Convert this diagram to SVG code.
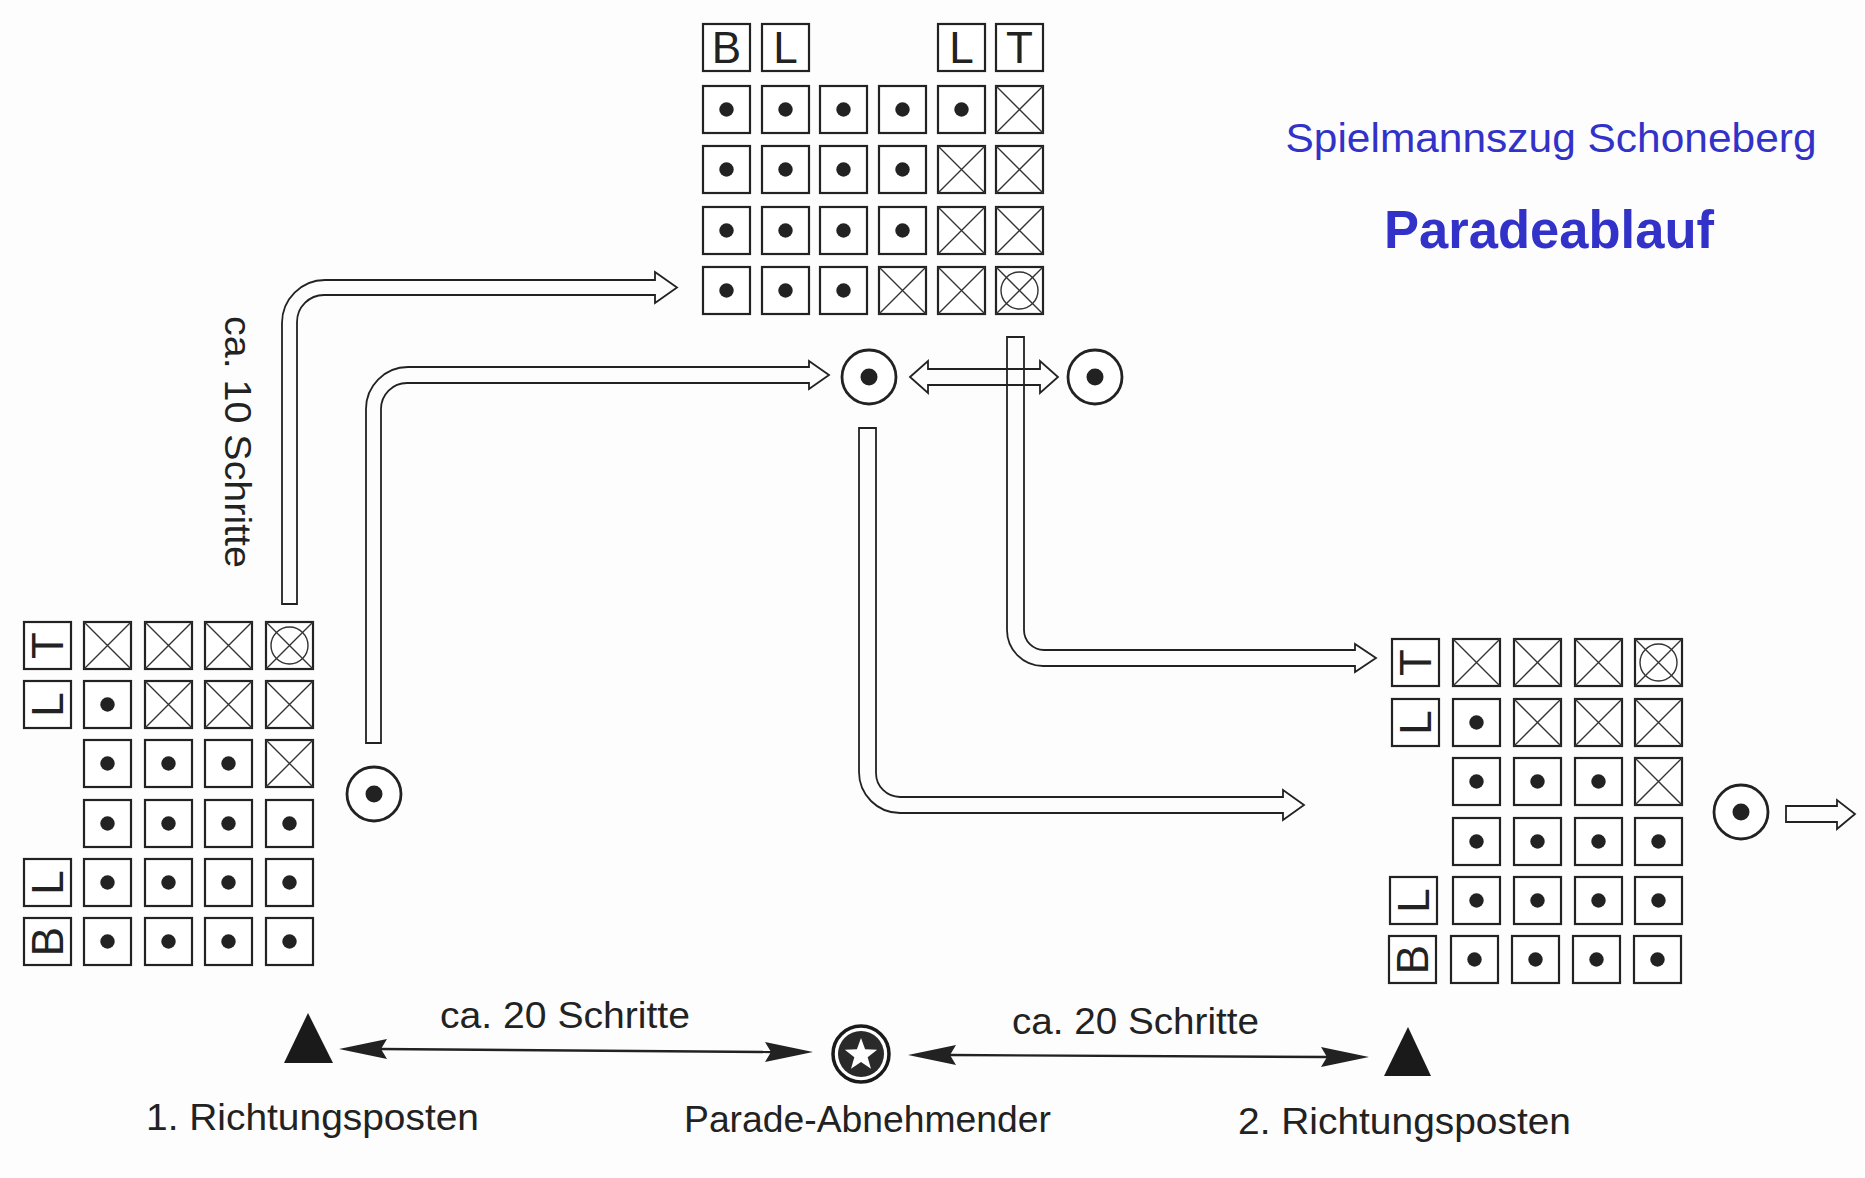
<svg xmlns="http://www.w3.org/2000/svg" xmlns:xlink="http://www.w3.org/1999/xlink" width="1865" height="1178" viewBox="0 0 1865 1178">
<style>
.bx{fill:#fff;stroke:#222;stroke-width:2.2}
.xl{stroke:#333;stroke-width:1.4;fill:none}
.dt{fill:#222}
.lb{font-family:"Liberation Sans",Arial,sans-serif;font-size:44px;fill:#222;text-anchor:middle}
.pipe{fill:none;stroke:#222;stroke-width:1.8;stroke-linejoin:miter}
.mk{fill:#fff;stroke:#222;stroke-width:2.8}
.txt{font-family:"Liberation Sans",Arial,sans-serif;font-size:37px;fill:#222}
.ttl{font-family:"Liberation Sans",Arial,sans-serif;fill:#3232c8;text-anchor:middle}
</style>
<defs>
<g id="cD"><rect class="bx" x="0" y="0" width="47" height="47"/><circle class="dt" cx="23.5" cy="23.5" r="7.2"/></g>
<g id="cX"><rect class="bx" x="0" y="0" width="47" height="47"/><path class="xl" d="M0 0L47 47M47 0L0 47"/></g>
<g id="cO"><rect class="bx" x="0" y="0" width="47" height="47"/><path class="xl" d="M0 0L47 47M47 0L0 47"/><circle class="xl" cx="23.5" cy="23.5" r="18.5"/></g>
<g id="marker"><circle class="mk" cx="0" cy="0" r="27"/><circle class="dt" cx="0" cy="0" r="8.5"/></g>
</defs>
<rect x="0" y="0" width="1865" height="1178" fill="#fdfdfd"/>

<g id="title">
<text class="ttl" x="1551" y="152" font-size="41" textLength="531" lengthAdjust="spacingAndGlyphs">Spielmannszug Schoneberg</text>
<text class="ttl" x="1549" y="248" font-size="54" font-weight="bold" textLength="330" lengthAdjust="spacingAndGlyphs">Paradeablauf</text>
</g>

<g id="connectors">
<path id="pipe-a" class="pipe" d="M282 604 L282 323 A43 43 0 0 1 325 280 L655 280 L655 272 L677 287.5 L655 303 L655 295 L324 295 A27 27 0 0 0 297 322 L297 604 Z"/>
<path id="pipe-b" class="pipe" d="M366 743 L366 409 A42 42 0 0 1 408 367 L809 367 L809 361 L829 375 L809 389 L809 383 L407 383 A26 26 0 0 0 381 409 L381 743 Z"/>
<path id="pipe-c" class="pipe" d="M859 428 L859 772 A41 41 0 0 0 900 813 L1283 813 L1283 820 L1304 805 L1283 790 L1283 797 L900 797 A24 24 0 0 1 876 773 L876 428 Z"/>
<path id="pipe-d" class="pipe" d="M1007 337 L1007 630 A36 36 0 0 0 1043 666 L1355 666 L1355 672 L1376 658 L1355 644 L1355 650 L1044 650 A20 20 0 0 1 1024 630 L1024 337 Z"/>
<path id="swap" class="pipe" d="M910 377 L928 361 L928 369 L1040 369 L1040 361 L1058 377 L1040 393 L1040 385 L928 385 L928 393 Z"/>
<path id="exit" class="pipe" d="M1786 806 L1837 806 L1837 800 L1855 814 L1837 829 L1837 822 L1786 822 Z"/>
<g id="dist-left">
<line x1="380" y1="1049" x2="772" y2="1052" stroke="#222" stroke-width="2.4"/>
<polygon points="339,1049 387,1039 381,1049 387,1059" fill="#222"/>
<polygon points="813,1052 765,1042 771,1052 765,1062" fill="#222"/>
</g>
<g id="dist-right">
<line x1="950" y1="1055" x2="1327" y2="1057" stroke="#222" stroke-width="2.4"/>
<polygon points="908,1055 956,1045 950,1055 956,1065" fill="#222"/>
<polygon points="1369,1057 1321,1047 1327,1057 1321,1067" fill="#222"/>
</g>
</g>

<g id="formation-top">
<g><rect class="bx" x="703" y="24" width="47" height="47"/><text class="lb" x="726.5" y="63">B</text></g>
<g><rect class="bx" x="762" y="24" width="47" height="47"/><text class="lb" x="785.5" y="63">L</text></g>
<g><rect class="bx" x="938" y="24" width="47" height="47"/><text class="lb" x="961.5" y="63">L</text></g>
<g><rect class="bx" x="996" y="24" width="47" height="47"/><text class="lb" x="1019.5" y="63">T</text></g>
<use xlink:href="#cD" x="703" y="86"/><use xlink:href="#cD" x="762" y="86"/><use xlink:href="#cD" x="820" y="86"/><use xlink:href="#cD" x="879" y="86"/><use xlink:href="#cD" x="938" y="86"/><use xlink:href="#cX" x="996" y="86"/>
<use xlink:href="#cD" x="703" y="146"/><use xlink:href="#cD" x="762" y="146"/><use xlink:href="#cD" x="820" y="146"/><use xlink:href="#cD" x="879" y="146"/><use xlink:href="#cX" x="938" y="146"/><use xlink:href="#cX" x="996" y="146"/>
<use xlink:href="#cD" x="703" y="207"/><use xlink:href="#cD" x="762" y="207"/><use xlink:href="#cD" x="820" y="207"/><use xlink:href="#cD" x="879" y="207"/><use xlink:href="#cX" x="938" y="207"/><use xlink:href="#cX" x="996" y="207"/>
<use xlink:href="#cD" x="703" y="267"/><use xlink:href="#cD" x="762" y="267"/><use xlink:href="#cD" x="820" y="267"/><use xlink:href="#cX" x="879" y="267"/><use xlink:href="#cX" x="938" y="267"/><use xlink:href="#cO" x="996" y="267"/>
</g>

<g id="formation-left">
<g><rect class="bx" x="24" y="622" width="47" height="47"/><text class="lb" x="47.5" y="661" transform="rotate(-90 47.5 645.5)">T</text></g>
<use xlink:href="#cX" x="84" y="622"/><use xlink:href="#cX" x="145" y="622"/><use xlink:href="#cX" x="205" y="622"/><use xlink:href="#cO" x="266" y="622"/>
<g><rect class="bx" x="24" y="681" width="47" height="47"/><text class="lb" x="47.5" y="720" transform="rotate(-90 47.5 704.5)">L</text></g>
<use xlink:href="#cD" x="84" y="681"/><use xlink:href="#cX" x="145" y="681"/><use xlink:href="#cX" x="205" y="681"/><use xlink:href="#cX" x="266" y="681"/>
<use xlink:href="#cD" x="84" y="740"/><use xlink:href="#cD" x="145" y="740"/><use xlink:href="#cD" x="205" y="740"/><use xlink:href="#cX" x="266" y="740"/>
<use xlink:href="#cD" x="84" y="800"/><use xlink:href="#cD" x="145" y="800"/><use xlink:href="#cD" x="205" y="800"/><use xlink:href="#cD" x="266" y="800"/>
<g><rect class="bx" x="24" y="859" width="47" height="47"/><text class="lb" x="47.5" y="898" transform="rotate(-90 47.5 882.5)">L</text></g>
<use xlink:href="#cD" x="84" y="859"/><use xlink:href="#cD" x="145" y="859"/><use xlink:href="#cD" x="205" y="859"/><use xlink:href="#cD" x="266" y="859"/>
<g><rect class="bx" x="24" y="918" width="47" height="47"/><text class="lb" x="47.5" y="957" transform="rotate(-90 47.5 941.5)">B</text></g>
<use xlink:href="#cD" x="84" y="918"/><use xlink:href="#cD" x="145" y="918"/><use xlink:href="#cD" x="205" y="918"/><use xlink:href="#cD" x="266" y="918"/>
</g>

<g id="formation-right">
<g><rect class="bx" x="1392" y="639" width="47" height="47"/><text class="lb" x="1415.5" y="678" transform="rotate(-90 1415.5 662.5)">T</text></g>
<use xlink:href="#cX" x="1453" y="639"/><use xlink:href="#cX" x="1514" y="639"/><use xlink:href="#cX" x="1575" y="639"/><use xlink:href="#cO" x="1635" y="639"/>
<g><rect class="bx" x="1392" y="699" width="47" height="47"/><text class="lb" x="1415.5" y="738" transform="rotate(-90 1415.5 722.5)">L</text></g>
<use xlink:href="#cD" x="1453" y="699"/><use xlink:href="#cX" x="1514" y="699"/><use xlink:href="#cX" x="1575" y="699"/><use xlink:href="#cX" x="1635" y="699"/>
<use xlink:href="#cD" x="1453" y="758"/><use xlink:href="#cD" x="1514" y="758"/><use xlink:href="#cD" x="1575" y="758"/><use xlink:href="#cX" x="1635" y="758"/>
<use xlink:href="#cD" x="1453" y="818"/><use xlink:href="#cD" x="1514" y="818"/><use xlink:href="#cD" x="1575" y="818"/><use xlink:href="#cD" x="1635" y="818"/>
<g><rect class="bx" x="1390" y="877" width="47" height="47"/><text class="lb" x="1413.5" y="916" transform="rotate(-90 1413.5 900.5)">L</text></g>
<use xlink:href="#cD" x="1453" y="877"/><use xlink:href="#cD" x="1514" y="877"/><use xlink:href="#cD" x="1575" y="877"/><use xlink:href="#cD" x="1635" y="877"/>
<g><rect class="bx" x="1389" y="936" width="47" height="47"/><text class="lb" x="1412.5" y="975" transform="rotate(-90 1412.5 959.5)">B</text></g>
<use xlink:href="#cD" x="1451" y="936"/><use xlink:href="#cD" x="1512" y="936"/><use xlink:href="#cD" x="1573" y="936"/><use xlink:href="#cD" x="1634" y="936"/>
</g>

<g id="leader-1"><use xlink:href="#marker" x="869" y="377"/></g>
<g id="leader-2"><use xlink:href="#marker" x="1095" y="377"/></g>
<g id="leader-left"><use xlink:href="#marker" x="374" y="794"/></g>
<g id="leader-right"><use xlink:href="#marker" x="1741" y="812"/></g>

<g id="post-1">
<polygon points="308,1013 284,1063 333,1063" fill="#1a1a1a"/>
<text class="txt" x="146" y="1130" textLength="333" lengthAdjust="spacingAndGlyphs">1. Richtungsposten</text>
</g>
<g id="reviewer">
<circle cx="861" cy="1054" r="28" fill="#fff" stroke="#1a1a1a" stroke-width="3.5"/>
<circle cx="861" cy="1054" r="23" fill="#2a2a2a"/>
<polygon transform="translate(861 1055)" points="0,-17 4.11,-5.66 16.17,-5.25 6.66,2.16 9.99,13.75 0,7 -9.99,13.75 -6.66,2.16 -16.17,-5.25 -4.11,-5.66" fill="#fff"/>
<text class="txt" x="684" y="1132" textLength="367" lengthAdjust="spacingAndGlyphs">Parade-Abnehmender</text>
</g>
<g id="post-2">
<polygon points="1408,1027 1384,1076 1431,1076" fill="#1a1a1a"/>
<text class="txt" x="1238" y="1134" textLength="333" lengthAdjust="spacingAndGlyphs">2. Richtungsposten</text>
</g>

<g id="labels">
<text class="txt" x="440" y="1028" textLength="250" lengthAdjust="spacingAndGlyphs">ca. 20 Schritte</text>
<text class="txt" x="1012" y="1034" textLength="247" lengthAdjust="spacingAndGlyphs">ca. 20 Schritte</text>
<text class="txt" x="0" y="0" transform="translate(225 316) rotate(90)" textLength="252" lengthAdjust="spacingAndGlyphs">ca. 10 Schritte</text>
</g>
</svg>
